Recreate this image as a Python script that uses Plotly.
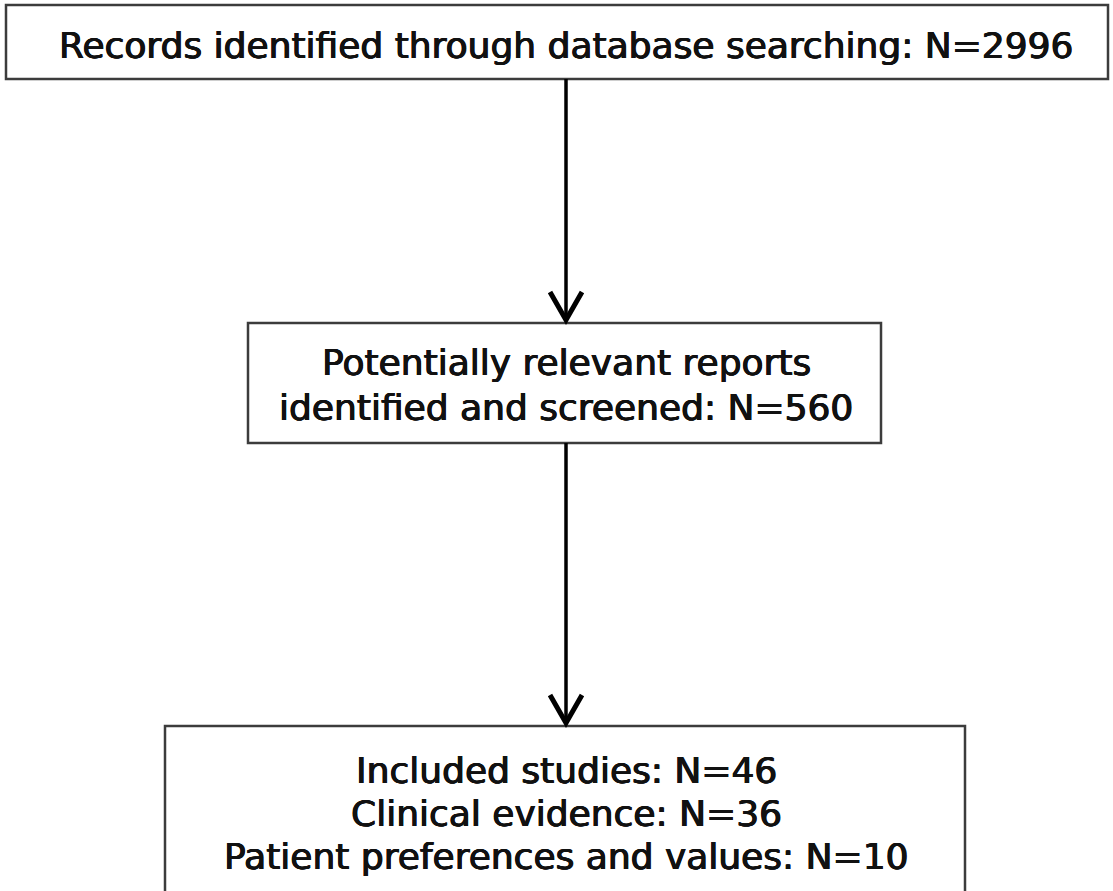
import plotly.graph_objects as go

W, H = 1113, 891

# Flowchart content
stage_labels = [
    ["Records identified through database searching: N=2996"],
    ["Potentially relevant reports", "identified and screened: N=560"],
    ["Included studies: N=46", "Clinical evidence: N=36", "Patient preferences and values: N=10"],
]

# Box geometry (layout, pixel units of the page)
boxes = [
    dict(x0=6, x1=1108, y0=5, y1=79),
    dict(x0=248, x1=881, y0=323, y1=443),
    dict(x0=165, x1=965, y0=726, y1=905),
]
line_gap = [0, 45, 43]
text_center = [45, 385, 813]
arrow_x = 566

FONT = "DejaVu Sans"
FS = 36
TXT = "#111111"
SHADOW = f"0.6px 0 0 {TXT}, -0.5px 0 0 {TXT}, 0 0.4px 0 {TXT}"

fig = go.Figure()
shapes = []
annotations = []

for i, b in enumerate(boxes):
    if b["y1"] > H:
        path = f"M{b['x0']},{H+30} L{b['x0']},{b['y0']} L{b['x1']},{b['y0']} L{b['x1']},{H+30}"
    else:
        path = (f"M{b['x0']},{b['y0']} L{b['x1']},{b['y0']} L{b['x1']},{b['y1']} "
                f"L{b['x0']},{b['y1']} Z")
    shapes.append(dict(type="path", path=path, xref="x", yref="y",
                       line=dict(color="#3c3c3c", width=2.5), fillcolor="rgba(0,0,0,0)",
                       layer="above"))
    lines = stage_labels[i]
    n = len(lines)
    for j, t in enumerate(lines):
        y = text_center[i] + (j - (n - 1) / 2) * line_gap[i]
        annotations.append(dict(x=arrow_x, y=y, xref="x", yref="y",
                                text=t, showarrow=False,
                                font=dict(family=FONT, size=FS, color=TXT, shadow=SHADOW),
                                xanchor="center", yanchor="middle"))

# Arrows between boxes
for i in range(len(boxes) - 1):
    y_start = boxes[i]["y1"]
    y_tip = boxes[i + 1]["y0"]
    shapes.append(dict(type="line", x0=arrow_x, x1=arrow_x, y0=y_start, y1=y_tip - 3,
                       xref="x", yref="y", line=dict(color="#000000", width=3.5)))
    shapes.append(dict(type="path",
                       path=f"M{arrow_x-16},{y_tip-31} L{arrow_x},{y_tip-3} L{arrow_x+16},{y_tip-31}",
                       xref="x", yref="y", line=dict(color="#000000", width=5),
                       fillcolor="rgba(0,0,0,0)"))

fig.update_layout(
    width=W, height=H,
    margin=dict(l=0, r=0, t=0, b=0),
    paper_bgcolor="white", plot_bgcolor="white",
    xaxis=dict(range=[0, W], visible=False, fixedrange=True),
    yaxis=dict(range=[H, 0], visible=False, fixedrange=True),
    shapes=shapes, annotations=annotations,
    showlegend=False,
)
fig.write_html("out.html", config={"displayModeBar": False},
               post_script="document.body.style.margin='0';")
